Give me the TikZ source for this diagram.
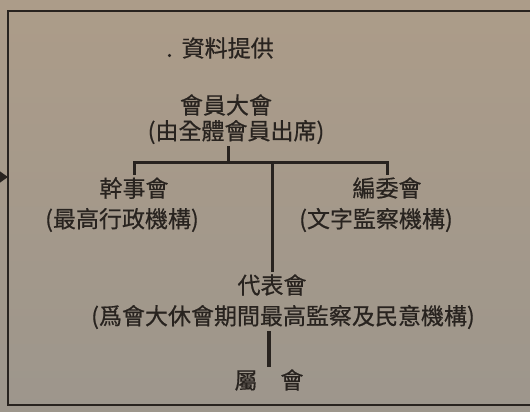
\documentclass[tikz,border=0pt]{standalone}
\usepackage{fontspec}
\newfontfamily\cjk{Noto Sans CJK TC}[FakeBold=0.6]
\definecolor{paperTan}{RGB}{172, 156, 137}
\definecolor{paperGrey}{RGB}{157, 150, 140}
\definecolor{inkDark}{RGB}{40, 35, 31}
\usetikzlibrary{positioning, calc, arrows.meta}

\begin{document}
\begin{tikzpicture}[
    x=1pt, y=-1pt,
    label/.style={inner sep=2pt, font=\cjk\fontsize{23}{26}\selectfont,
                  text=inkDark},
    link/.style={line width=3pt, draw=inkDark},
    frame/.style={line width=2.6pt, draw=inkDark},
  ]
    % paper and frame
    \useasboundingbox (0,0) rectangle (530,412);
    \shade[top color=paperTan, bottom color=paperGrey] (0,0) rectangle (530,412);
    \coordinate (frameTL) at (8,11);
    \coordinate (frameBL) at (8,405);
    \draw[frame] (545,11) -- (frameTL) -- (frameBL) -- (545,405);
    \coordinate (inlet) at (-12,177);
    \draw[link, -{Triangle[length=9pt, width=12pt]}] (inlet) -- (inlet -| frameTL);

    \node[label] (source) at (220,48) {.\hspace{9pt}資料提供};

    \node[label] (GM) at (226,105) {會員大會};
    \node[label] (GMnote) at (236,132) {(由全體會員出席)};
    \coordinate (fork) at (228,162);

    \node[label] (EXEC) at (134,188) {幹事會};
    \node[label] (EXECnote) at (122,220) {(最高行政機構)};
    \node[label] (EDIT) at (387,188) {編委會};
    \node[label] (EDITnote) at (376,220) {(文字監察機構)};

    \node[label] (REP) at (272,285) {代表會};
    \node[label] (REPnote) at (283,317) {(爲會大休會期間最高監察及民意機構)};
    \node[label] (BRANCH) at (269,380) {屬　會};

    \draw[link] (GMnote.south -| fork) -- (fork);
    \draw[link] (EXEC.north) |- (fork) -| (EDIT.north);
    \draw[link] (fork -| REP.north) -- (REP.north);
    \draw[link, line width=4.5pt] (REPnote.south -| BRANCH.north) -- (BRANCH.north);
  \end{tikzpicture}
\end{document}
